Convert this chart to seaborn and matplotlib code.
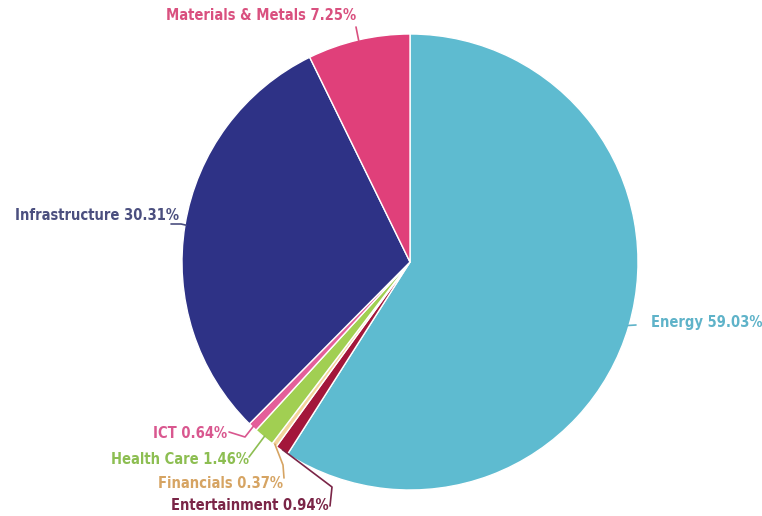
import numpy as np
import matplotlib
matplotlib.use("Agg")
import matplotlib.pyplot as plt
import seaborn as sns

sectors = ["Energy", "Entertainment", "Financials", "Health Care", "ICT",
           "Infrastructure", "Materials & Metals"]
shares = [59.03, 0.94, 0.37, 1.46, 0.64, 30.31, 7.25]
wedge_colors = ["#5ebbd0", "#a3163a", "#f3d49c", "#a1cf52", "#e45f9a",
                "#2e3286", "#e0407a"]
label_colors = ["#5fb3c9", "#7a2547", "#d6a463", "#8dbe52", "#d9578f",
                "#4b4f7f", "#d9507f"]

sns.set_theme(style="white")
plt.rcParams["font.family"] = ["DejaVu Sans"]

W, H = 762, 516
fig = plt.figure(figsize=(W / 100, H / 100), dpi=100)
cx, cy, R = 410, 262, 228
ax = fig.add_axes([(cx - R) / W, (H - cy - R) / H, 2 * R / W, 2 * R / H])

wedges, _ = ax.pie(shares, colors=wedge_colors, startangle=90, counterclock=False,
                   radius=1.0, wedgeprops=dict(edgecolor="white", linewidth=1.0))
ax.set_xlim(-1, 1)
ax.set_ylim(-1, 1)
ax.set_aspect("equal")
ax.axis("off")


def px(x, y):
    """Convert pixel offsets (from top-left of the figure) to data units."""
    return (x - cx) / R, (cy - y) / R


# label anchor (pixels), horizontal alignment, bend points of the leader line
layout = {
    "Energy": ((651, 323), "left", [(636, 325)]),
    "Entertainment": ((329, 505), "right", [(330, 506), (332, 487)]),
    "Financials": ((283, 483), "right", [(284, 478), (283, 465)]),
    "Health Care": ((249, 460), "right", [(249, 457)]),
    "ICT": ((227, 434), "right", [(229, 432), (245, 437)]),
    "Infrastructure": ((179, 215), "right", [(171, 224), (181, 224)]),
    "Materials & Metals": ((356, 16), "right", [(356, 27)]),
}

for w, name, val, lc in zip(wedges, sectors, shares, label_colors):
    mid = np.deg2rad((w.theta1 + w.theta2) / 2)
    ex, ey = np.cos(mid), np.sin(mid)
    (tx, ty), ha, bends = layout[name]
    pts = [px(*b) for b in bends] + [(ex * 0.995, ey * 0.995)]
    xs, ys = zip(*pts)
    ax.plot(xs, ys, color=lc, lw=1.2, clip_on=False)
    lx, ly = px(tx, ty)
    ax.text(lx, ly, f"{name} {val:.2f}%", ha=ha, va="center", color=lc,
            fontsize=10.5, fontweight="bold", fontstretch="condensed",
            clip_on=False)

fig.savefig("out.png", dpi=100, facecolor="white")
